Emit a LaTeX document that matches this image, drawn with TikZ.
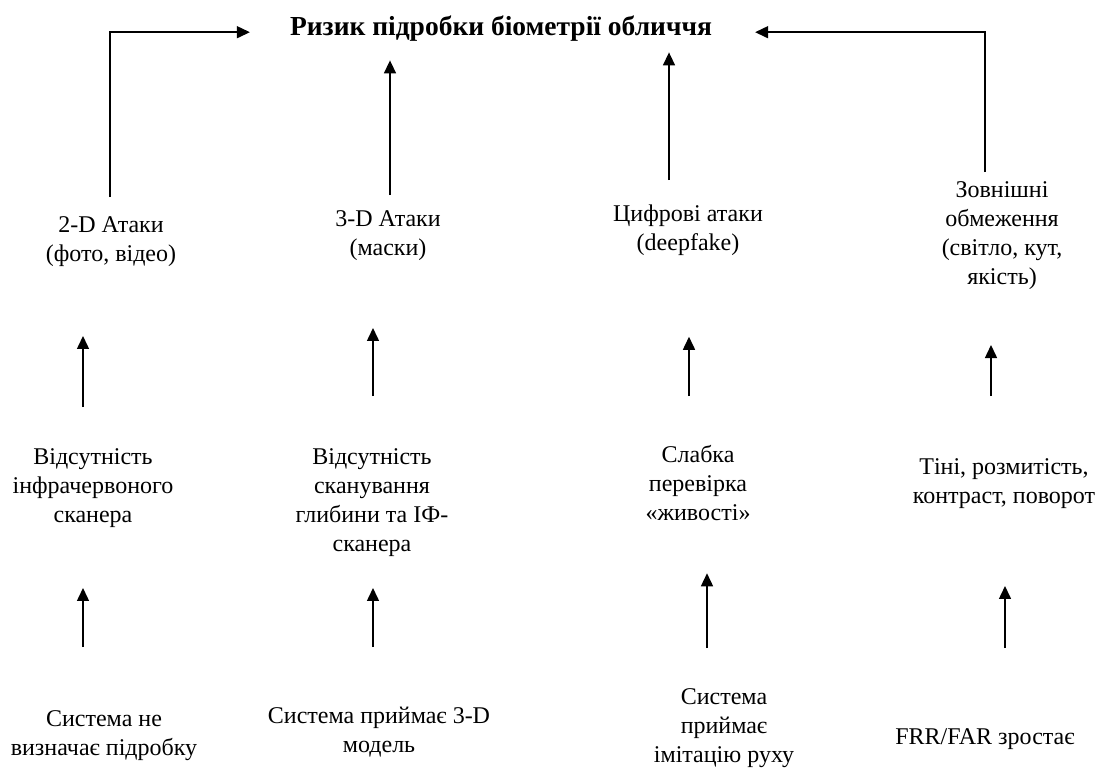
\documentclass[tikz,border=0pt]{standalone}
\usepackage{fontspec}
\setmainfont{Liberation Serif}
\usetikzlibrary{arrows.meta}

\begin{document}
\begin{tikzpicture}[x=1pt,y=-1pt,
  txt/.style={align=center, inner sep=0pt, anchor=north,
    font=\fontsize{24}{29}\selectfont,
    execute at begin node=\strut, execute at end node=\strut},
  ttl/.style={txt, font=\fontsize{27.5}{29}\selectfont\bfseries},
  arr/.style={line width=1.5pt, -{Triangle[length=13pt,width=12pt]}}]

\useasboundingbox (0,0) rectangle (1110,776);

% heading
\node[ttl] (T) at (501,14.7) {Ризик підробки біометрії обличчя};

% upper row: kinds of attack and limits
\node[txt] (r1c1) at (111,216.7) {2-D Атаки\\(фото, відео)};
\node[txt] (r1c2) at (388,210.7) {3-D Атаки\\(маски)};
\node[txt] (r1c3) at (688,204.7) {Цифрові атаки\\(deepfake)};
\node[txt] (r1c4) at (1002,181.7) {Зовнішні\\обмеження\\(світло, кут,\\якість)};

% middle row: weaknesses
\node[txt] (r2c1) at (93,448.7) {Відсутність\\інфрачервоного\\сканера};
\node[txt] (r2c2) at (372,448.7) {Відсутність\\сканування\\глибини та ІФ-\\сканера};
\node[txt] (r2c3) at (698,444.7) {Слабка\\перевірка\\«живості»};
\node[txt] (r2c4) at (1004,458.7) {Тіні, розмитість,\\контраст, поворот};

% lower row: consequences
\node[txt] (r3c1) at (104,710.7) {Система не\\визначає підробку};
\node[txt] (r3c2) at (379,706.7) {Система приймає 3-D\\модель};
\node[txt] (r3c3) at (724,688.7) {Система\\приймає\\імітацію руху};
\node[txt] (r3c4) at (985,723.7) {FRR/FAR зростає};

% lower row -> middle row
\draw[arr] ([shift={(-21,-63.7)}]r3c1.north) -- ([shift={(-10,56.3)}]r2c1.south);
\draw[arr] ([shift={(-6,-59.7)}]r3c2.north) -- ([shift={(1,27.3)}]r2c2.south);
\draw[arr] ([shift={(-17,-40.7)}]r3c3.north) -- ([shift={(9,44.3)}]r2c3.south);
\draw[arr] ([shift={(20,-75.7)}]r3c4.north) -- ([shift={(1,73.3)}]r2c4.south);

% middle row -> upper row
\draw[arr] ([shift={(-10,-41.7)}]r2c1.north) -- ([shift={(-28,65.3)}]r1c1.south);
\draw[arr] ([shift={(1,-52.7)}]r2c2.north) -- ([shift={(-15,63.3)}]r1c2.south);
\draw[arr] ([shift={(-9,-48.7)}]r2c3.north) -- ([shift={(1,77.3)}]r1c3.south);
\draw[arr] ([shift={(-13,-62.7)}]r2c4.north) -- ([shift={(-11,51.3)}]r1c4.south);

% upper row -> heading
\draw[arr] ([shift={(-1,-19.7)}]r1c1.north) |- ([shift={(-40,2.8)}]T.west);
\draw[arr] ([shift={(2,-15.7)}]r1c2.north) -- ([shift={(-111,16.3)}]T.south);
\draw[arr] ([shift={(-19,-24.7)}]r1c3.north) -- ([shift={(168,8.3)}]T.south);
\draw[arr] ([shift={(-17,-9.7)}]r1c4.north) |- ([shift={(43,2.8)}]T.east);
\end{tikzpicture}
\end{document}
